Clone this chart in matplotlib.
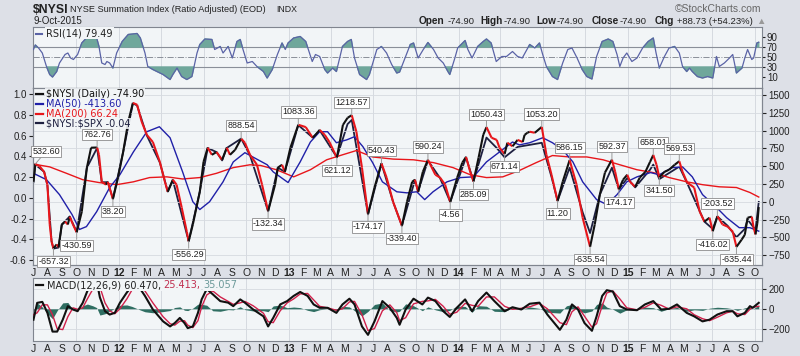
import matplotlib
matplotlib.use('Agg')
import matplotlib.pyplot as plt
import matplotlib.dates as mdates
from matplotlib.collections import LineCollection
import numpy as np
import pandas as pd

plt.rcParams['font.family'] = ['Liberation Sans', 'DejaVu Sans']

# ---- $NYSI daily (right axis) ----
nysi_dates = [
    '2011-07-01', '2011-07-05', '2011-07-14', '2011-07-24', '2011-07-31', '2011-08-05', '2011-08-09', '2011-08-13',
    '2011-08-20', '2011-08-24', '2011-08-31', '2011-09-07', '2011-09-13', '2011-09-17', '2011-09-24', '2011-10-02',
    '2011-10-13', '2011-10-24', '2011-11-02', '2011-11-15', '2011-11-19', '2011-11-25', '2011-12-04', '2011-12-08',
    '2011-12-19', '2011-12-30',
    '2012-01-10', '2012-01-21', '2012-01-31', '2012-02-09', '2012-02-19', '2012-03-01', '2012-03-14', '2012-03-29',
    '2012-04-09', '2012-04-15', '2012-04-26', '2012-05-04', '2012-05-15', '2012-05-26', '2012-05-30', '2012-06-08',
    '2012-06-23', '2012-07-01', '2012-07-10', '2012-07-19', '2012-07-29', '2012-08-10', '2012-08-20', '2012-08-27',
    '2012-09-07', '2012-09-20', '2012-09-28', '2012-10-09', '2012-10-24', '2012-11-04', '2012-11-17', '2012-12-02',
    '2012-12-08', '2012-12-17', '2012-12-23',
    '2013-01-04', '2013-01-21', '2013-02-06', '2013-02-21', '2013-02-27', '2013-03-08', '2013-03-19', '2013-03-29',
    '2013-04-14', '2013-04-27', '2013-05-07', '2013-05-16', '2013-05-26', '2013-06-07', '2013-06-20', '2013-07-04',
    '2013-07-19', '2013-07-30', '2013-08-13', '2013-09-01', '2013-09-12', '2013-09-23', '2013-09-29', '2013-10-06',
    '2013-10-16', '2013-10-27', '2013-11-12', '2013-11-22', '2013-12-03', '2013-12-14', '2013-12-29',
    '2014-01-09', '2014-01-17', '2014-01-26', '2014-02-02', '2014-02-13', '2014-02-23', '2014-03-02', '2014-03-13',
    '2014-03-24', '2014-03-30', '2014-04-10', '2014-04-16', '2014-04-27', '2014-05-08', '2014-05-19', '2014-05-23',
    '2014-05-29', '2014-06-03', '2014-06-14', '2014-06-29', '2014-07-09', '2014-07-20', '2014-08-02', '2014-08-13',
    '2014-08-28', '2014-09-12', '2014-09-25', '2014-10-11', '2014-10-21', '2014-11-01', '2014-11-12', '2014-11-27',
    '2014-12-04', '2014-12-12', '2014-12-21', '2014-12-30',
    '2015-01-05', '2015-01-16', '2015-01-26', '2015-02-07', '2015-02-17', '2015-02-24', '2015-03-03', '2015-03-09',
    '2015-03-20', '2015-03-30', '2015-04-11', '2015-04-21', '2015-04-28', '2015-05-08', '2015-05-23', '2015-06-04',
    '2015-06-14', '2015-06-25', '2015-07-02', '2015-07-12', '2015-07-23', '2015-08-03', '2015-08-14', '2015-08-22',
    '2015-09-02', '2015-09-09', '2015-09-15', '2015-09-24', '2015-09-28', '2015-10-02', '2015-10-06', '2015-10-09']
nysi_values = [
    281, 532, 500, 420, 240, -320, -560, -657, -600, -640, -320, -280, -320, -210, -320, -430, -140, 480, 760, 763,
    660, 280, 240, 280, 38, 340,
    700, 1125, 1390, 1365, 1125, 940, 840, 560, 280, 140, 310, 240, -80, -420, -556, -320, 140, 560, 760, 660,
    700, 590, 760, 660, 730, 888, 830, 660, 520, 240, -132, 240, 480, 520, 420,
    760, 1083, 1050, 900, 940, 1010, 940, 840, 621, 1080, 1180, 1218, 985, 480, -174, 200, 540, 340, 0, -339,
    0, 280, 310, 140, 420, 590, 380, 340, 240, -5, 340,
    550, 630, 420, 285, 620, 940, 1050, 900, 870, 760, 671, 830, 780, 870, 840, 940, 970, 985, 970, 1053,
    660, 380, 11, 280, 586, 240, -225, -635, -320, 100, 410, 592, 420, 174, 310, 380,
    280, 210, 340, 420, 560, 658, 520, 341, 420, 450, 520, 570, 420, 270, 200, -140, -280, -225, -416, -203,
    -320, -350, -420, -635, -535, -465, -225, -210, -365, -460, -300, -75]

# ---- $NYSI:$SPX ratio (left axis) ----
ratio_dates = [
    '2011-07-01', '2011-07-05', '2011-07-24', '2011-07-31', '2011-08-09', '2011-08-13', '2011-08-24', '2011-08-31',
    '2011-09-17', '2011-10-02', '2011-10-24', '2011-11-15', '2011-11-25', '2011-12-08', '2011-12-19',
    '2012-01-10', '2012-01-31', '2012-02-09', '2012-03-01', '2012-03-29', '2012-04-15', '2012-04-26', '2012-05-30',
    '2012-06-23', '2012-07-10', '2012-07-29', '2012-08-10', '2012-08-20', '2012-09-20', '2012-10-09', '2012-11-17',
    '2012-12-08', '2012-12-23',
    '2013-01-21', '2013-02-21', '2013-03-08', '2013-04-14', '2013-05-07', '2013-05-16', '2013-06-20', '2013-07-19',
    '2013-08-13', '2013-09-01', '2013-09-29', '2013-10-06', '2013-10-27', '2013-11-22', '2013-12-14',
    '2014-01-17', '2014-02-02', '2014-03-02', '2014-03-24', '2014-04-10', '2014-05-08', '2014-06-03', '2014-06-29',
    '2014-07-20', '2014-08-02', '2014-08-28', '2014-09-25', '2014-10-11', '2014-11-01', '2014-11-27', '2014-12-12',
    '2014-12-30',
    '2015-01-16', '2015-02-17', '2015-02-24', '2015-03-09', '2015-04-21', '2015-05-08', '2015-06-14', '2015-07-02',
    '2015-07-12', '2015-08-03', '2015-08-22', '2015-09-09', '2015-09-15', '2015-10-02', '2015-10-09']
ratio_values = [
    0.15, 0.32, 0.25, 0.12, -0.42, -0.49, -0.48, -0.26, -0.18, -0.33, 0.29, 0.48, 0.15, 0.15, -0.01,
    0.44, 0.91, 0.89, 0.60, 0.34, 0.06, 0.17, -0.42, 0.06, 0.48, 0.44, 0.36, 0.48, 0.57, 0.41, -0.13,
    0.29, 0.25,
    0.70, 0.58, 0.65, 0.39, 0.71, 0.75, -0.16, 0.33, -0.04, -0.27, 0.17, 0.06, 0.36, 0.19, -0.04,
    0.39, 0.16, 0.58, 0.48, 0.39, 0.49, 0.51, 0.53, 0.20, -0.03, 0.29, -0.14, -0.34, 0.03, 0.29, 0.08,
    0.19,
    0.10, 0.27, 0.32, 0.18, 0.30, 0.14, -0.23, -0.30, -0.18, -0.27, -0.38, -0.30, -0.21, -0.31, -0.04]

# ---- moving averages ----
ma50_dates = [
    '2011-07-01', '2011-07-29', '2011-08-26', '2011-09-22', '2011-10-08', '2011-10-23', '2011-11-14', '2011-12-12',
    '2012-01-03', '2012-02-01', '2012-03-01', '2012-03-28', '2012-04-20', '2012-05-17', '2012-06-08', '2012-06-23',
    '2012-07-14', '2012-08-12', '2012-09-03', '2012-09-28', '2012-10-15', '2012-11-15', '2012-11-28', '2012-12-30',
    '2013-01-25', '2013-02-16', '2013-03-08', '2013-03-25', '2013-04-13', '2013-05-05', '2013-05-22', '2013-06-09',
    '2013-06-30', '2013-07-21', '2013-08-21', '2013-09-12', '2013-10-03', '2013-10-20', '2013-11-07', '2013-12-07',
    '2014-01-05', '2014-02-02', '2014-03-02', '2014-03-30', '2014-04-27', '2014-05-12', '2014-06-03', '2014-07-01',
    '2014-07-22', '2014-08-13', '2014-09-04', '2014-09-25', '2014-10-25', '2014-11-16', '2014-12-08', '2014-12-29',
    '2015-01-20', '2015-02-18', '2015-03-09', '2015-04-06', '2015-04-28', '2015-05-19', '2015-06-10', '2015-07-10',
    '2015-08-01', '2015-08-28', '2015-09-20', '2015-10-09']
ma50_values = [
    400, 310, 100, -180, -390, -350, -140, 200,
    380, 700, 985, 1055, 900, 420, 0, -110, 0, 280, 560, 690, 630, 520, 420, 270,
    560, 840, 985, 985, 830, 870, 915, 775, 550, 280, 140, 125, 140, 30, 140, 280,
    340, 350, 560, 700, 840, 800, 830, 900, 830, 730, 560, 280, 30, -40, 100, 280,
    350, 410, 380, 480, 490, 350, 100, -80, -225, -365, -365, -414]

ma200_dates = [
    '2011-07-01', '2011-08-05', '2011-09-10', '2011-10-15', '2011-11-19', '2011-12-27',
    '2012-02-01', '2012-03-07', '2012-04-13', '2012-05-17', '2012-06-23', '2012-07-29', '2012-09-03', '2012-10-09',
    '2012-11-01', '2012-12-05',
    '2013-01-11', '2013-02-16', '2013-03-23', '2013-04-26', '2013-05-26', '2013-06-30', '2013-08-13', '2013-09-26',
    '2013-11-08', '2013-12-20',
    '2014-01-26', '2014-03-02', '2014-04-06', '2014-05-12', '2014-06-17', '2014-07-22', '2014-08-28', '2014-10-04',
    '2014-11-08', '2014-12-14',
    '2015-01-20', '2015-02-24', '2015-03-30', '2015-05-07', '2015-06-10', '2015-07-16', '2015-08-22', '2015-09-20',
    '2015-10-09']
ma200_values = [
    530, 490, 400, 310, 270, 240,
    280, 340, 350, 320, 340, 400, 480, 520, 510, 450,
    350, 450, 590, 660, 720, 630, 600, 590, 550, 480,
    380, 340, 350, 440, 550, 650, 630, 630, 590, 520,
    450, 410, 340, 280, 240, 210, 200, 130, 66]

# ---- RSI(14) ----
rsi_dates = [
    '2011-07-01', '2011-07-05', '2011-07-12', '2011-07-20', '2011-07-29', '2011-08-05', '2011-08-11', '2011-08-20',
    '2011-08-26', '2011-09-07', '2011-09-13', '2011-09-19', '2011-09-25', '2011-10-04', '2011-10-13', '2011-10-23',
    '2011-11-04', '2011-11-14', '2011-11-19', '2011-11-25', '2011-12-02', '2011-12-06', '2011-12-12', '2011-12-19',
    '2011-12-27',
    '2012-01-08', '2012-01-21', '2012-02-09', '2012-02-16', '2012-02-26', '2012-03-03', '2012-03-14', '2012-04-05',
    '2012-04-20', '2012-04-26', '2012-05-05', '2012-05-15', '2012-05-26', '2012-06-06', '2012-06-17', '2012-06-23',
    '2012-07-04', '2012-07-19', '2012-07-25', '2012-08-06', '2012-08-12', '2012-08-23', '2012-09-01', '2012-09-11',
    '2012-09-18', '2012-09-24', '2012-10-03', '2012-10-14', '2012-10-24', '2012-11-07', '2012-11-15', '2012-11-26',
    '2012-12-07', '2012-12-17', '2012-12-24', '2012-12-30',
    '2013-01-11', '2013-01-25', '2013-02-06', '2013-02-20', '2013-02-27', '2013-03-08', '2013-03-19', '2013-03-25',
    '2013-04-05', '2013-04-13', '2013-04-26', '2013-05-07', '2013-05-15', '2013-05-22', '2013-06-02', '2013-06-17',
    '2013-06-23', '2013-07-09', '2013-07-19', '2013-07-30', '2013-08-10', '2013-08-21', '2013-08-27', '2013-09-09',
    '2013-09-19', '2013-09-26', '2013-10-06', '2013-10-17', '2013-10-27', '2013-11-08', '2013-11-18', '2013-11-29',
    '2013-12-09', '2013-12-13', '2013-12-24', '2013-12-30',
    '2014-01-15', '2014-01-21', '2014-01-30', '2014-02-11', '2014-02-23', '2014-03-02', '2014-03-12', '2014-03-23',
    '2014-04-04', '2014-04-14', '2014-04-27', '2014-05-08', '2014-05-18', '2014-06-03', '2014-06-14', '2014-06-24',
    '2014-07-01', '2014-07-09', '2014-07-22', '2014-08-02', '2014-08-13', '2014-08-24', '2014-09-02', '2014-09-13',
    '2014-09-24', '2014-10-04', '2014-10-15', '2014-10-25', '2014-11-06', '2014-11-19', '2014-11-29', '2014-12-08',
    '2014-12-14', '2014-12-21', '2014-12-29',
    '2015-01-09', '2015-01-20', '2015-02-01', '2015-02-13', '2015-02-24', '2015-03-02', '2015-03-09', '2015-03-20',
    '2015-03-30', '2015-04-11', '2015-04-21', '2015-04-28', '2015-05-07', '2015-05-13', '2015-05-19', '2015-05-30',
    '2015-06-10', '2015-06-21', '2015-07-02', '2015-07-10', '2015-07-16', '2015-07-27', '2015-08-07', '2015-08-14',
    '2015-08-22', '2015-09-03', '2015-09-09', '2015-09-15', '2015-09-24', '2015-09-28', '2015-10-05', '2015-10-09']
rsi_values = [
    65, 74, 68, 58, 31, 15, 10, 21, 38, 55, 58, 48, 45, 55, 78, 88, 88, 88, 71, 38, 35, 41, 38, 28, 58,
    81, 95, 97, 88, 58, 31, 25, 15, 5, 15, 28, 11, 5, 11, 58, 75, 86, 85, 65, 71, 58, 71, 48, 81, 85,
    65, 38, 41, 31, 21, 8, 25, 55, 78, 65, 78,
    88, 91, 81, 41, 55, 51, 25, 18, 28, 21, 71, 81, 85, 48, 15, 5, 15, 65, 71, 58, 35, 18, 20, 51,
    75, 78, 48, 65, 79, 65, 48, 38, 21, 15, 48, 68,
    83, 65, 48, 71, 81, 86, 78, 41, 51, 51, 61, 51, 48, 75, 68, 78, 55, 31, 11, 5, 38, 65, 68, 48,
    25, 11, 6, 51, 81, 86, 81, 55, 31, 48, 58,
    41, 48, 68, 81, 88, 58, 28, 51, 68, 71, 58, 31, 21, 28, 21, 11, 8, 11, 8, 51, 31, 38, 48, 55,
    18, 28, 48, 65, 45, 48, 78, 79.49]

# ---- MACD(12,26,9) ----
macd_dates = [
    '2011-07-01', '2011-07-09', '2011-07-20', '2011-07-31', '2011-08-11', '2011-08-21', '2011-09-02', '2011-09-13',
    '2011-09-24', '2011-10-04', '2011-10-15', '2011-10-25', '2011-11-06', '2011-11-14', '2011-11-21', '2011-12-02',
    '2011-12-12', '2011-12-23',
    '2012-01-03', '2012-01-18', '2012-01-29', '2012-02-16', '2012-02-26', '2012-03-14', '2012-04-05', '2012-04-20',
    '2012-04-30', '2012-05-11', '2012-05-21', '2012-05-28', '2012-06-08', '2012-06-19', '2012-06-27', '2012-07-08',
    '2012-07-21', '2012-08-06', '2012-08-23', '2012-09-03', '2012-09-18', '2012-09-28', '2012-10-16', '2012-11-07',
    '2012-11-17', '2012-11-28', '2012-12-13', '2012-12-28',
    '2013-01-11', '2013-01-25', '2013-02-10', '2013-02-23', '2013-03-08', '2013-03-25', '2013-04-13', '2013-04-26',
    '2013-05-11', '2013-05-22', '2013-06-07', '2013-06-20', '2013-07-04', '2013-07-21', '2013-08-06', '2013-08-21',
    '2013-08-27', '2013-09-09', '2013-09-26', '2013-10-15', '2013-10-27', '2013-11-12', '2013-11-29', '2013-12-13',
    '2013-12-28',
    '2014-01-15', '2014-01-30', '2014-02-12', '2014-03-02', '2014-03-19', '2014-04-10', '2014-04-27', '2014-05-16',
    '2014-06-03', '2014-06-24', '2014-07-11', '2014-08-07', '2014-08-21', '2014-09-02', '2014-09-15', '2014-09-29',
    '2014-10-15', '2014-10-25', '2014-11-06', '2014-11-16', '2014-11-29', '2014-12-14', '2014-12-29',
    '2015-01-20', '2015-02-06', '2015-02-24', '2015-03-13', '2015-03-30', '2015-04-16', '2015-05-07', '2015-05-23',
    '2015-06-10', '2015-06-25', '2015-07-12', '2015-08-01', '2015-08-14', '2015-08-24', '2015-09-09', '2015-09-20',
    '2015-09-26', '2015-10-09']
macd_values = [
    -110, 60, 70, -40, -230, -230, -110, 27, -7, -24, 60, 180, 250, 280, 115, -24, -58, -41,
    60, 165, 230, 200, 130, -7, -127, -178, -144, -92, -144, -195, -178, -41, 95, 200, 146, 78, 62, 27, 95, 62,
    -7, -76, -178, -92, 44, 78,
    130, 170, 130, 44, 10, 10, -41, 44, 102, 44, -178, -263, -127, 78, 10, -92, -161, -7, 102, 44,
    113, 78, -24, -82, 10,
    95, -24, 78, 164, 78, -24, 16, -7, 51, 62, -58, -212, -110, 44, -7, -144, -222, -76, 130, 188,
    174, 27, -7,
    -14, 44, 78, -7, 0, 44, -41, -76, -127, -110, -58, -24, -24, -76, -41, 27, 10, 60.47]
signal_values = [
    -60, -40, 40, 40, -60, -200, -210, -80, 10, -5, 10, 100, 200, 260, 220, 60, -20, -50,
    0, 100, 190, 220, 180, 60, -80, -150, -165, -125, -120, -165, -190, -120, 20, 140, 180, 120, 75, 45, 60, 75,
    30, -45, -130, -140, -20, 60,
    100, 150, 155, 90, 25, 10, -15, 0, 70, 75, -60, -220, -200, -20, 40, -40, -120, -90, 50, 75,
    80, 95, 25, -55, -35,
    55, 35, 25, 120, 120, 25, -5, 5, 20, 55, 0, -140, -160, -30, 20, -75, -185, -150, 30, 160,
    180, 100, 10,
    -10, 15, 60, 35, -3, 20, 0, -60, -100, -120, -85, -40, -24, -50, -58, -5, 15, 25.41]
hist_values = [
    -30, 60, 18, -48, -100, -18, 60, 64, -10, -11, 30, 48, 30, 12, -63, -50, -23, 5,
    36, 39, 24, -12, -30, -40, -28, -17, 13, 20, -14, -18, 7, 47, 45, 36, -20, -25, -8, -11, 21, -8,
    -22, -19, -29, 29, 38, 11,
    18, 12, -15, -28, -9, 0, -16, 26, 19, -19, -71, -26, 44, 59, -18, -31, -25, 50, 31, -19,
    20, -10, -29, -16, 27,
    24, -35, 32, 26, -25, -29, 13, -7, 19, 4, -35, -43, 30, 44, -16, -41, -22, 44, 60, 17,
    -4, -44, -10,
    -2, 17, 11, -25, 2, 14, -25, -10, -16, 6, 16, 10, 0, -16, 10, 19, -3, 35.06]

# ---- peak / trough value tags ----
tag_dates = ['2011-07-05', '2011-08-13', '2011-10-02', '2011-11-15', '2011-12-19', '2012-05-30', '2012-09-20',
             '2012-11-17', '2013-01-21', '2013-04-14', '2013-05-16', '2013-06-20', '2013-07-19', '2013-09-01',
             '2013-10-27', '2013-12-14', '2014-02-02', '2014-03-02', '2014-04-10', '2014-06-29', '2014-08-02',
             '2014-08-28', '2014-10-11', '2014-11-27', '2014-12-12', '2015-02-24', '2015-03-09', '2015-04-21',
             '2015-07-02', '2015-07-12', '2015-08-22']
tag_texts = ['532.60', '-657.32', '-430.59', '762.76', '38.20', '-556.29', '888.54', '-132.34', '1083.36',
             '621.12', '1218.57', '-174.17', '540.43', '-339.40', '590.24', '-4.56', '285.09', '1050.43',
             '671.14', '1053.20', '11.20', '586.15', '-635.54', '592.37', '174.17', '658.01', '341.50',
             '569.53', '-416.02', '-203.52', '-635.44']
tag_above = [1, 0, 0, 1, 0, 0, 1, 0, 1, 0, 1, 0, 1, 0, 1, 0, 0, 1, 0, 1, 0, 1, 0, 1, 0, 1, 0, 1, 0, 1, 0]

def dn(dates):
    return mdates.date2num(pd.to_datetime(dates))

panel_bg = '#f2f5f7'
frame_col = '#80858f'
grid_col = '#d6dae0'
txt_col = '#222222'

fig = plt.figure(figsize=(8, 3.56), dpi=100)
fig.patch.set_facecolor('#dde0e7')

L, W = 33 / 800, 729 / 800
ax_rsi = fig.add_axes([L, 1 - 88 / 356, W, 61 / 356])
ax = fig.add_axes([L, 1 - 265 / 356, W, 177 / 356])
ax_m = fig.add_axes([L, 1 - 341 / 356, W, 63 / 356])
ax2 = ax.twinx()

x0, x1 = dn(['2011-06-30', '2015-10-16'])
months = pd.date_range('2011-07-01', '2015-10-01', freq='MS')
month_x = dn(months)
month_lbl = [m.strftime('%y') if m.month == 1 else m.strftime('%b')[0] for m in months]
quarters = [mx for mx, m in zip(month_x, months) if m.month in (1, 4, 7, 10)]

for a in (ax_rsi, ax, ax_m):
    a.set_facecolor(panel_bg)
    a.set_xlim(x0, x1)
    for s in a.spines.values():
        s.set_color(frame_col)
        s.set_linewidth(0.8)
    for q in quarters:
        a.axvline(q, color=grid_col, lw=0.7, zorder=0)
for s in ax2.spines.values():
    s.set_color(frame_col)
    s.set_linewidth(0.8)

# ---- RSI panel ----
rx = dn(rsi_dates)
ry = np.array(rsi_values, dtype=float)
ax_rsi.set_ylim(-12, 110)
ax_rsi.axhline(70, color='#8a8f99', lw=0.8, zorder=1)
ax_rsi.axhline(30, color='#8a8f99', lw=0.8, zorder=1)
ax_rsi.axhline(50, color='#8a8f99', lw=0.7, ls='-.', zorder=1)
ax_rsi.fill_between(rx, ry, 70, where=ry >= 70, interpolate=True, color='#6fa79b', zorder=2)
ax_rsi.fill_between(rx, ry, 30, where=ry <= 30, interpolate=True, color='#6fa79b', zorder=2)
ax_rsi.plot(rx, ry, color='#5a63a6', lw=0.9, zorder=3)
ax_rsi.set_xticks([])
ax_rsi.yaxis.tick_right()
ax_rsi.set_yticks([90, 70, 50, 30, 10])
ax_rsi.tick_params(axis='y', labelsize=7, length=2, pad=1.5, colors=txt_col)
ax_rsi.text(0.018, 0.9, 'RSI(14) 79.49', transform=ax_rsi.transAxes, fontsize=7, va='center',
            family='DejaVu Sans', color=txt_col,
            bbox=dict(boxstyle='square,pad=0.1', fc=panel_bg, ec='none'))
ax_rsi.plot([0.004, 0.013], [0.88, 0.88], transform=ax_rsi.transAxes, color='#5a63a6', lw=1.5)

# ---- main panel ----
ax.set_ylim(-0.648, 1.058)
ax2.set_ylim(-890, 1600)
ax2.set_yticks(np.arange(-750, 1501, 250))
ax2.grid(axis='y', color=grid_col, lw=0.6)
ax2.set_axisbelow(True)
left_ticks = np.round(np.arange(-0.6, 1.01, 0.2), 1)
ax.set_yticks(left_ticks)
ax.set_yticklabels(['%.1f' % v for v in left_ticks])
ax.tick_params(axis='y', labelsize=7, length=3, pad=1.5, colors=txt_col)
ax2.tick_params(axis='y', labelsize=7, length=3, pad=1.5, colors=txt_col)

ax.plot(dn(ratio_dates), ratio_values, color='#1e2040', lw=1.3, zorder=3)
ax2.plot(dn(ma200_dates), ma200_values, color='#e8161b', lw=1.0, zorder=2)
ax2.plot(dn(ma50_dates), ma50_values, color='#2020a8', lw=1.0, zorder=2)

px = dn(nysi_dates)
py = np.array(nysi_values, dtype=float)
segs = np.stack([np.column_stack([px[:-1], py[:-1]]), np.column_stack([px[1:], py[1:]])], axis=1)
seg_cols = ['#111111' if b >= a else '#e8161b' for a, b in zip(py[:-1], py[1:])]
ax2.add_collection(LineCollection(segs, colors=seg_cols, linewidths=1.5, zorder=4))

for d, t, up in zip(tag_dates, tag_texts, tag_above):
    v = nysi_values[nysi_dates.index(d)]
    xd = dn([d])[0]
    off = 6 if up else -6
    near_left = xd - x0 < 10
    ax2.annotate(t, xy=(xd, v), xytext=(-2 if near_left else 0, off), textcoords='offset points',
                 ha='left' if near_left else 'center', va='bottom' if up else 'top', fontsize=6.5,
                 color=txt_col, annotation_clip=False, zorder=6,
                 bbox=dict(boxstyle='square,pad=0.12', fc='white', ec='#8c8c8c', lw=0.6),
                 arrowprops=dict(arrowstyle='-', color='#999999', lw=0.7, shrinkA=0, shrinkB=0))

legend_rows = [('\\$NYSI (Daily) -74.90', '#111111'), ('MA(50) -413.60', '#2020a8'),
               ('MA(200) 66.24', '#e8161b'), ('\\$NYSI:\\$SPX -0.04', '#1e2040')]
for i, (t, c) in enumerate(legend_rows):
    yy = 0.965 - i * 0.055
    ax2.text(0.0175, yy, t, transform=ax2.transAxes, fontsize=7, va='center', color=c,
             family='DejaVu Sans', zorder=7,
             bbox=dict(boxstyle='square,pad=0.08', fc=panel_bg, ec='none', alpha=0.85))
    ax2.plot([0.004, 0.014], [yy, yy], transform=ax2.transAxes, color=c, lw=1.6, zorder=7)

ax.set_xticks(month_x)
ax.set_xticklabels(month_lbl)
ax.tick_params(axis='x', labelsize=7.5, length=0, pad=2, colors=txt_col)

# ---- MACD panel ----
mx = dn(macd_dates)
hv = np.array(hist_values, dtype=float)
ax_m.set_ylim(-325, 311)
ax_m.set_yticks([200, 0, -200])
ax_m.yaxis.tick_right()
ax_m.grid(axis='y', color=grid_col, lw=0.6)
ax_m.set_axisbelow(True)
ax_m.tick_params(axis='y', labelsize=7, length=3, pad=1.5, colors=txt_col)
ax_m.fill_between(mx, 0, hv, color='#2f6e62', lw=0, zorder=2)
ax_m.plot(mx, signal_values, color='#d0204a', lw=1.0, zorder=3)
ax_m.plot(mx, macd_values, color='#111111', lw=1.5, zorder=4)
ax_m.set_xticks(month_x)
ax_m.set_xticklabels(month_lbl)
ax_m.tick_params(axis='x', labelsize=7.5, length=0, pad=2, colors=txt_col)
ax_m.text(0.019, 0.885, 'MACD(12,26,9) 60.470,', transform=ax_m.transAxes, fontsize=7, va='center',
          family='DejaVu Sans', color=txt_col, zorder=6,
          bbox=dict(boxstyle='square,pad=0.1', fc=panel_bg, ec='none'))
ax_m.text(0.178, 0.885, '25.413,', transform=ax_m.transAxes, fontsize=7, va='center',
          family='DejaVu Sans', color='#c03050', zorder=6,
          bbox=dict(boxstyle='square,pad=0.1', fc=panel_bg, ec='none'))
ax_m.text(0.234, 0.885, '35.057', transform=ax_m.transAxes, fontsize=7, va='center',
          family='DejaVu Sans', color='#6c9a9a', zorder=6,
          bbox=dict(boxstyle='square,pad=0.1', fc=panel_bg, ec='none'))
ax_m.plot([0.004, 0.014], [0.885, 0.885], transform=ax_m.transAxes, color='#111111', lw=1.6, zorder=7)

for a in (ax, ax_m):
    for lab in a.get_xticklabels():
        if lab.get_text().isdigit():
            lab.set_fontweight('bold')

# ---- header ----
fig.text(33 / 800, 1 - 10 / 356, '\\$NYSI', fontsize=8.8, fontweight='bold', va='center', color=txt_col)
fig.text(70 / 800, 1 - 10 / 356, 'NYSE Summation Index (Ratio Adjusted) (EOD)', fontsize=6.6, va='center',
         color=txt_col)
fig.text(276 / 800, 1 - 10 / 356, 'INDX', fontsize=6.3, va='center', color=txt_col)
fig.text(33 / 800, 1 - 21 / 356, '9-Oct-2015', fontsize=7, va='center', color=txt_col)
fig.text(761 / 800, 1 - 9 / 356, '\u00a9StockCharts.com', fontsize=7.5, va='center', ha='right', color='#666666')
ohlc = [(419, 'Open', True), (448, '-74.90', False), (480, 'High', True), (504, '-74.90', False),
        (536, 'Low', True), (557, '-74.90', False), (592, 'Close', True), (620, '-74.90', False),
        (655, 'Chg', True), (677, '+88.73 (+54.23%)', False), (756, '\u25b2', False)]
for xp, t, b in ohlc:
    fig.text(xp / 800, 1 - 21 / 356, t, fontsize=7.2 if b else 6.8, fontweight='bold' if b else 'normal',
             va='center', color='#999999' if t == '\u25b2' else txt_col)

fig.savefig('out.png', dpi=100, facecolor=fig.get_facecolor())
